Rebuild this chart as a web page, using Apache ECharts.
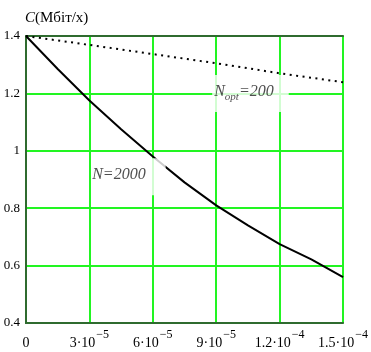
<!DOCTYPE html>
<html><head><meta charset="utf-8">
<script src="https://cdn.jsdelivr.net/npm/echarts@6/dist/echarts.min.js"></script>
<style>html,body{margin:0;padding:0;background:#fff}#c{width:371px;height:352px}</style>
</head><body><div id="c"></div>
<script>
const solidX = [0, 1.5e-5, 3e-5, 4.5e-5, 6e-5, 7.5e-5, 9e-5, 1.05e-4, 1.2e-4, 1.35e-4, 1.5e-4];
const solidY = [1.4, 1.285, 1.175, 1.075, 0.98, 0.89, 0.81, 0.74, 0.675, 0.622, 0.56];
const dottedX = [0, 3e-5, 6e-5, 9e-5, 1.2e-4, 1.5e-4];
const dottedY = [1.4, 1.369, 1.337, 1.305, 1.27, 1.239];
const xTickMant = ['0', '3·10', '6·10', '9·10', '1.2·10', '1.5·10'];
const xTickExp = ['', '−5', '−5', '−5', '−4', '−4'];
const yTickLabels = ['0.4', '0.6', '0.8', '1', '1.2', '1.4'];
const annX = [1.062e-4, 4.87e-5];
const annY = [1.2, 0.91];
const annText = ['{i|N}{s|opt}{i|=200}', '{i|N=2000}'];
const titleMain = 'C';
const titleUnit = '(Мбіт/х)';

const FONT = 'Liberation Serif';
const DARK = '#2f6b2f';
const BRIGHT = '#22f522';
const chart = echarts.init(document.getElementById('c'));
const xStep = 3e-5;
chart.setOption({
  animation: false,
  backgroundColor: '#fff',
  title: {
    text: '{i|' + titleMain + '}{r|' + titleUnit + '}',
    left: 20, top: 6,
    textStyle: {
      fontWeight: 'normal',
      rich: {
        i: {fontFamily: FONT, fontSize: 15, fontStyle: 'italic', fontWeight: 'normal', color: '#000'},
        r: {fontFamily: FONT, fontSize: 15, fontWeight: 'normal', color: '#000'}
      }
    }
  },
  grid: {left: 26, right: 20, top: 36, bottom: 29},
  xAxis: [{
    type: 'value', min: 0, max: 1.5e-4, interval: xStep,
    axisLine: {show: true, lineStyle: {color: DARK, width: 2}},
    axisTick: {show: false},
    splitLine: {show: true, lineStyle: {color: BRIGHT, width: 2, opacity: 1}},
    axisLabel: {
      margin: 13,
      formatter: function (v) {
        const i = Math.round(v / xStep);
        return '{m|' + xTickMant[i] + '}' + (xTickExp[i] ? '{e|' + xTickExp[i] + '}' : '');
      },
      rich: {
        m: {fontFamily: FONT, fontSize: 14, color: '#000', verticalAlign: 'bottom', lineHeight: 14},
        e: {fontFamily: FONT, fontSize: 12, color: '#000', verticalAlign: 'bottom', padding: [0, 0, 9, 1], lineHeight: 12}
      }
    }
  }, {
    type: 'value', min: 0, max: 1.5e-4, position: 'top',
    axisLine: {show: true, lineStyle: {color: DARK, width: 2}},
    axisTick: {show: false}, axisLabel: {show: false}, splitLine: {show: false}
  }],
  yAxis: [{
    type: 'value', min: 0.4, max: 1.4, interval: 0.2,
    axisLine: {show: true, lineStyle: {color: DARK, width: 2}},
    axisTick: {show: false},
    splitLine: {show: true, lineStyle: {color: BRIGHT, width: 2, opacity: 1}},
    axisLabel: {
      margin: 6, fontFamily: FONT, fontSize: 13, color: '#000',
      formatter: function (v) { return yTickLabels[Math.round((v - 0.4) / 0.2)]; }
    }
  }, {
    type: 'value', min: 0.4, max: 1.4, position: 'right',
    axisLine: {show: true, lineStyle: {color: DARK, width: 2}},
    axisTick: {show: false}, axisLabel: {show: false}, splitLine: {show: false}
  }],
  series: [{
    type: 'line', symbol: 'none', z: 3,
    data: solidX.map((x, i) => [x, solidY[i]]),
    lineStyle: {color: '#000', width: 2}
  }, {
    type: 'line', symbol: 'none', z: 3,
    data: dottedX.map((x, i) => [x, dottedY[i]]),
    lineStyle: {color: '#000', width: 2, type: [2, 4.5]}
  }, {
    type: 'scatter', symbolSize: 0, z: 10,
    data: annX.map((x, i) => ({
      value: [x, annY[i]], txt: annText[i],
      label: {padding: i === 0 ? [9, 15, 9, 2] : [9, 20, 9, 0]}
    })),
    label: {
      show: true, position: 'inside',
      formatter: p => p.data.txt,
      backgroundColor: '#fff',
      rich: {
        i: {fontFamily: FONT, fontSize: 16, fontStyle: 'italic', color: '#222', verticalAlign: 'bottom', padding: [0, 0, 3, 0]},
        s: {fontFamily: FONT, fontSize: 11, fontStyle: 'italic', color: '#222', verticalAlign: 'bottom'}
      }
    }
  }]
});
</script></body></html>
